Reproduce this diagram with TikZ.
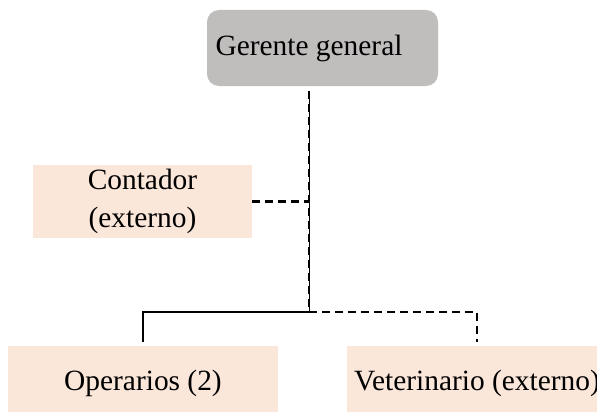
\documentclass[tikz,border=0pt]{standalone}
\usepackage{fontspec}
\setmainfont{Liberation Serif}
\definecolor{boss}{HTML}{C0BDBD}
\definecolor{peach}{HTML}{FBE6DA}
\begin{document}
\begin{tikzpicture}[x=1pt,y=-1pt,
  box/.style={fill=peach, draw=none, inner sep=0pt, font=\fontsize{29.4}{38}\selectfont, align=center},
  solidline/.style={line width=1.4pt},
  thinline/.style={line width=0.8pt},
  dashline/.style={line width=2.2pt, dash pattern=on 8pt off 5pt}]
\useasboundingbox (0,0) rectangle (597,412);
\clip (0,0) rectangle (597,412);
\node[box, fill=boss, rounded corners=12pt, minimum width=231pt, minimum height=76pt] (g) at (322.5,48) {Gerente general\hspace*{27pt}};
\node[box, minimum width=219pt, minimum height=73pt] (c) at (142.5,201.5) {Contador\\(externo)};
\node[box, minimum width=270pt, minimum height=74pt] (o) at (143,383) {Operarios (2)};
\node[box, minimum width=260pt, minimum height=74pt] (v) at (477,383) {Veterinario (externo)};
\coordinate (j) at (309,312);
\draw[thinline, shorten <=5pt] (g.south -| j) -- (j);
\draw[dashline, shorten <=5pt] (g.south -| j) -- (j);
\draw[dashline] (c.east) -- (c.east -| j);
\draw[solidline, shorten >=4pt] (j) -| (o.north);
\draw[dashline, shorten >=4pt] (j) -| (v.north);
\end{tikzpicture}
\end{document}
